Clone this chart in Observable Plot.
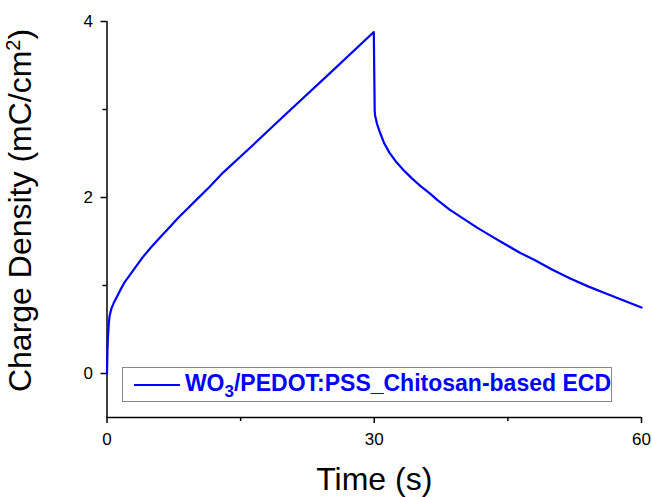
<!DOCTYPE html>
<html>
<head>
<meta charset="utf-8">
<script src="https://cdn.jsdelivr.net/npm/d3@7"></script>
<script src="https://cdn.jsdelivr.net/npm/@observablehq/plot@0.6"></script>
<style>
  html, body { margin: 0; padding: 0; background: #fff; }
  #wrap { position: relative; width: 652px; height: 497px; font-family: "Liberation Sans", Arial, sans-serif; }
  #legend {
    position: absolute; left: 122px; top: 367px; width: 490px; height: 35px;
    border: 1.5px solid #888; box-sizing: border-box; background: #fff;
    display: flex; align-items: center;
  }
  #legend .swatch { width: 46px; height: 2px; background: #0000ff; margin-left: 11px; margin-right: 5px; }
  #legend .lbl { color: #0000ff; font-weight: bold; font-size: 23px; white-space: nowrap; position: relative; top: -1px; }
  #legend sub { font-size: 17px; vertical-align: -6px; line-height: 0; }
</style>
</head>
<body>
<div id="wrap"></div>
<script>
// Data
const time = [0, 0.05, 0.1, 0.2, 0.3, 0.5, 0.75, 1, 1.5, 2, 2.5, 3, 4, 5, 6, 7, 8, 9, 10, 11.5, 13, 16, 20, 25, 29.95,
              30.05, 30.1, 30.3, 30.6, 31.1, 31.7, 32.5, 33.3, 34.2, 35.2, 36.2, 37.1, 38.5, 40, 41.5, 43, 44.5, 46.4,
              48, 50, 52, 54, 56, 58, 60];
const charge = [0, 0.25, 0.4, 0.57, 0.66, 0.74, 0.8, 0.85, 0.95, 1.04, 1.11, 1.18, 1.32, 1.44, 1.55, 1.66, 1.77, 1.87, 1.97, 2.12, 2.28, 2.56, 2.94, 3.41, 3.88,
                2.98, 2.93, 2.84, 2.75, 2.62, 2.51, 2.40, 2.31, 2.22, 2.13, 2.05, 1.97, 1.86, 1.76, 1.66, 1.57, 1.48, 1.37,
                1.29, 1.18, 1.08, 0.99, 0.91, 0.83, 0.75];
const xTicks = [0, 30, 60];
const xMinor = [15, 45];
const yTicks = [0, 2, 4];
const yMinor = [1, 3];
const seriesName = "WO3/PEDOT:PSS_Chitosan-based ECD";

const data = time.map((t, i) => ({t, q: charge[i]}));

const chart = Plot.plot({
  width: 652,
  height: 497,
  marginLeft: 106.5,
  marginRight: 11,
  marginTop: 21,
  marginBottom: 80,
  style: {fontFamily: "Liberation Sans, Arial, sans-serif", fontSize: "16px", background: "#fff", color: "#000"},
  x: {domain: [0, 60]},
  y: {domain: [-0.5, 4]},
  marks: [
    Plot.ruleX([0], {y1: -0.5, y2: 4, stroke: "#000", strokeWidth: 1.5}),
    Plot.ruleY([-0.5], {x1: 0, x2: 60, stroke: "#000", strokeWidth: 1.5}),
    Plot.axisX({ticks: xTicks, tickSize: 6, tickPadding: 9, tickFormat: d => d, fontSize: 17, strokeWidth: 1.5,
      label: "Time (s)", labelAnchor: "center", labelOffset: 72, labelArrow: false}),
    Plot.axisX({ticks: xMinor, tickSize: 4, tickFormat: () => "", label: null, strokeWidth: 1.5}),
    Plot.axisY({ticks: yTicks, tickSize: 6, tickPadding: 8, tickFormat: d => d, fontSize: 17, strokeWidth: 1.5,
      label: "Charge Density (mC/cm2)", labelAnchor: "center", labelOffset: 99, labelArrow: false}),
    Plot.axisY({ticks: yMinor, tickSize: 4, tickFormat: () => "", label: null, strokeWidth: 1.5}),
    Plot.line(data, {x: "t", y: "q", stroke: "#0000ff", strokeWidth: 2.2, curve: "linear"})
  ]
});

// enlarge axis titles; superscript in y title
chart.querySelectorAll("g[aria-label='x-axis label'] text, g[aria-label='y-axis label'] text").forEach(el => {
  el.style.fontSize = "32px";
});
const yl = chart.querySelector("g[aria-label='y-axis label'] text");
if (yl) {
  yl.innerHTML = "Charge Density (mC/cm<tspan baseline-shift='super' font-size='0.62em'>2</tspan>)";
  yl.setAttribute("dx", "9");
}

const wrap = document.getElementById("wrap");
wrap.appendChild(chart);

const legend = document.createElement("div");
legend.id = "legend";
legend.innerHTML = `<div class="swatch"></div><div class="lbl">WO<sub>3</sub>/PEDOT:PSS_Chitosan-based ECD</div>`;
legend.setAttribute("title", seriesName);
wrap.appendChild(legend);
</script>
</body>
</html>
